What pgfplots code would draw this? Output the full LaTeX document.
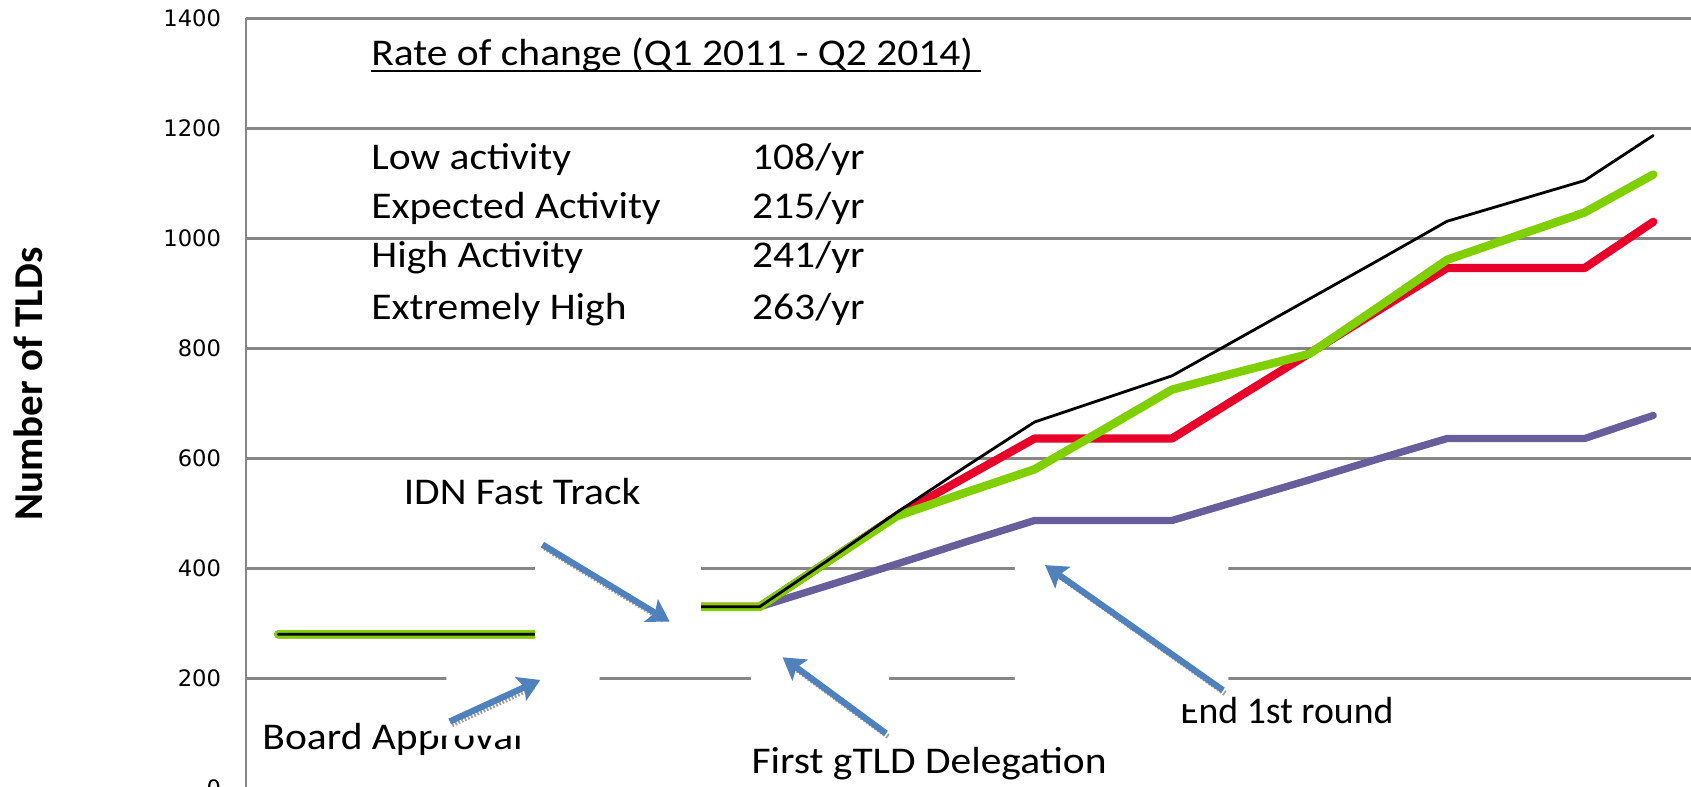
\documentclass[border=0pt]{standalone}
\usepackage{fontspec}
\setmainfont{Carlito}
\newfontfamily\tickfont{DejaVu Sans}
\usepackage{graphicx}
\usepackage{pgfplots}
\usepackage{pgfplotstable}
\pgfplotsset{compat=1.18}
\usetikzlibrary{arrows.meta}
\definecolor{cgreen}{RGB}{128,208,0}
\definecolor{cred}{RGB}{232,0,42}
\definecolor{cpurple}{RGB}{104,94,155}
\definecolor{cgrid}{RGB}{134,134,134}
\definecolor{carrow}{RGB}{79,129,189}
\newcommand\ann[1]{\scalebox{1.1}[1]{\fontsize{17.5pt}{21pt}\selectfont #1}}

\pgfplotstableread{
i  low expected high extreme
0  280 280  280  280
1  280 280  280  280
2  280 280  280  280
3  280 280  280  280
4  280 280  280  280
5  330 330  330  330
6  330 330  330  330
7  330 330  330  330
8  369 413  413  415
9  408 496  495  502
10 448 566  538  585
11 487 636  580  666
12 487 636  652  708
13 487 636  725  750
14 524 714  758  820
15 561 791  790  890
16 599 869  875  960
17 636 946  961  1031
18 636 946  1004 1068
19 636 946  1047 1105
20 678 1030 1116 1187
}\datatab

\begin{document}
\begin{tikzpicture}
\begin{axis}[
  scale only axis, width=670pt, height=357pt,
  at={(0,0)}, anchor=south west,
  xmin=-0.4706, xmax=20.549, ymin=0, ymax=1400,
  axis x line=none, axis y line*=left,
  axis line style={cgrid, line width=1.2pt},
  ytick={0,200,...,1400}, xtick=\empty,
  major tick length=0pt,
  ymajorgrids, major grid style={cgrid, line width=1.2pt},
  yticklabel style={font=\tickfont\fontsize{10.5pt}{12pt}\selectfont, xshift=-8pt},
  /pgf/number format/assume math mode=true,
  /pgf/number format/1000 sep={},
  clip=false,
  every axis plot/.append style={line cap=round, line join=round},
]
\addplot[cpurple, line width=3.4pt] table[x=i,y=low]{\datatab};
\addplot[cred, line width=3.8pt] table[x=i,y=expected]{\datatab};
\addplot[cgreen, line width=3.9pt] table[x=i,y=high]{\datatab};
\addplot[black, line width=1.3pt] table[x=i,y=extreme]{\datatab};
\end{axis}
\begin{scope}[shift={(-114pt,365.5pt)}, x=0.5pt, y=-0.5pt]
  % y label
  \node[rotate=90, font=\bfseries\fontsize{19pt}{22pt}\selectfont] at (26,356) {Number of TLDs};
  % rate of change text block
  \node[anchor=base west, inner sep=0] at (344,61) {\ann{Rate of change (Q1 2011 - Q2 2014)}};
  \draw[line width=1pt] (344,65.5) -- (910,65.5);
  \node[anchor=base west, inner sep=0] at (344,157) {\ann{Low activity}};
  \node[anchor=base west, inner sep=0] at (344,202.5) {\ann{Expected Activity}};
  \node[anchor=base west, inner sep=0] at (344,248) {\ann{High Activity}};
  \node[anchor=base west, inner sep=0] at (344,296) {\ann{Extremely High}};
  \node[anchor=base west, inner sep=0] at (697,157) {\ann{108/yr}};
  \node[anchor=base west, inner sep=0] at (697,202.5) {\ann{215/yr}};
  \node[anchor=base west, inner sep=0] at (697,248) {\ann{241/yr}};
  \node[anchor=base west, inner sep=0] at (697,296) {\ann{263/yr}};
  % event labels
  \node[anchor=base west, inner sep=0] at (374,468) {\ann{IDN Fast Track}};
  \node[anchor=base west, inner sep=0] at (243,695) {\ann{Board Approval}};
  \node[anchor=base west, inner sep=0] at (696.5,717) {\ann{First gTLD Delegation}};
  \node[anchor=base west, inner sep=0] at (1094,670.7) {\fontsize{17.5pt}{21pt}\selectfont End 1st round};
  % white backgrounds of the arrow pictures
  \fill[white] (496,480) rectangle (650,602);
  \fill[white] (414,600) -- (556,600) -- (556,650) -- (490,682) -- (400,682) -- (400,670) -- (414,660) -- cycle;
  \fill[white] (696,598) rectangle (824,688);
  \fill[white] (941,505) -- (1139,505) -- (1139,641) -- (1104,653) -- (941,653) -- cycle;
  % arrows with shadow
  \tikzset{shd/.style={gray!75, line width=2.4pt, dash pattern=on 0.8pt off 0.8pt, shift={(2,3)}},
           arr/.style={carrow, line width=2.9pt, -{Stealth[length=10pt,width=12pt,inset=2pt]}}}
  \draw[shd] (503,505) -- (613,572);
  \draw[arr] (503,505) -- (621,576.5);
  \draw[shd] (417,669) -- (493,634);
  \draw[arr] (417,669) -- (501,630.5);
  \draw[shd] (821.5,680) -- (733,615);
  \draw[arr] (821.5,680) -- (725.7,609.5);
  \draw[shd] (1134,640) -- (977,529);
  \draw[arr] (1134,640) -- (969,524);
\end{scope}
\pgfresetboundingbox
\path[use as bounding box] (-114pt,1pt) rectangle (670pt,365.5pt);
\end{tikzpicture}
\end{document}
